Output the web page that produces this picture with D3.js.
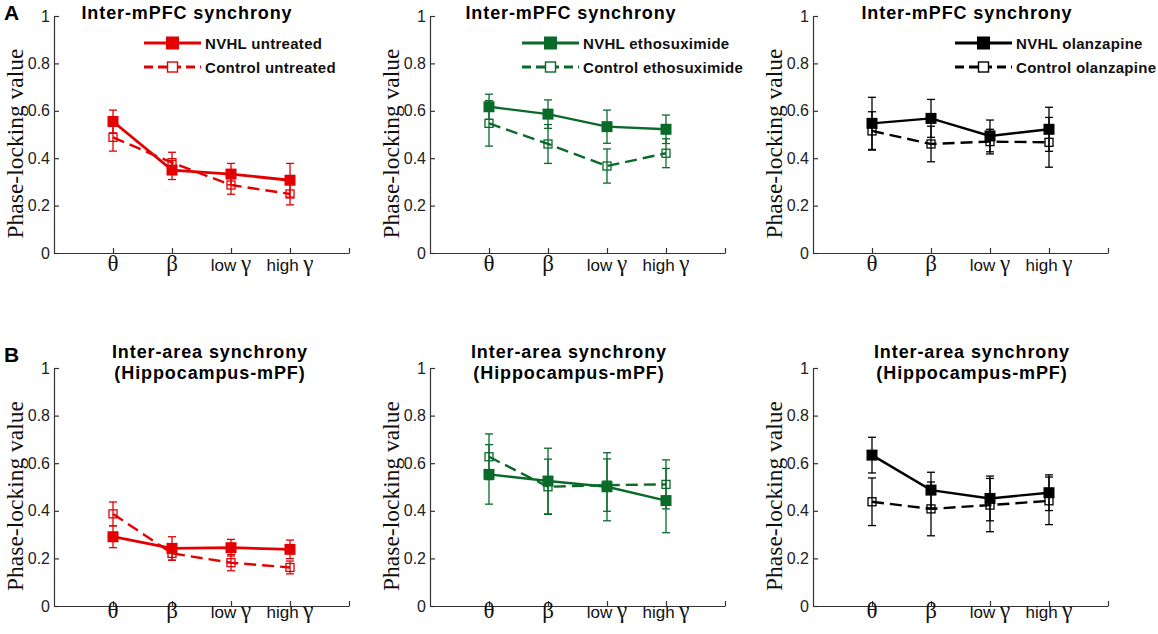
<!DOCTYPE html>
<html>
<head>
<meta charset="utf-8">
<script src="https://cdn.jsdelivr.net/npm/d3@7"></script>
<style>
  body { margin: 0; background: #fff; }
  text { font-family: "Liberation Sans", Arial, sans-serif; }
</style>
</head>
<body>
<svg id="chart" width="1158" height="634"></svg>
<script>
"use strict";
const bands = ['θ', 'β', 'low γ', 'high γ'];
const yTickValues = [0, 0.2, 0.4, 0.6, 0.8, 1];

const titleA = ['Inter-mPFC synchrony'];
const titleB = ['Inter-area synchrony', '(Hippocampus-mPF)'];
const legendNvhl = ['NVHL untreated', 'NVHL ethosuximide', 'NVHL olanzapine'];
const legendCtrl = ['Control untreated', 'Control ethosuximide', 'Control olanzapine'];

// A: inter-mPFC synchrony
const mpfcUntreatedNvhl = [0.555, 0.350, 0.333, 0.307];
const mpfcUntreatedNvhlErr = [0.048, 0.040, 0.045, 0.071];
const mpfcUntreatedCtrl = [0.488, 0.381, 0.287, 0.249];
const mpfcUntreatedCtrlErr = [0.058, 0.044, 0.039, 0.046];
const mpfcEthoNvhl = [0.617, 0.586, 0.533, 0.522];
const mpfcEthoNvhlErr = [0.053, 0.060, 0.070, 0.060];
const mpfcEthoCtrl = [0.547, 0.460, 0.367, 0.421];
const mpfcEthoCtrlErr = [0.096, 0.082, 0.072, 0.061];
const mpfcOlanNvhl = [0.547, 0.568, 0.494, 0.522];
const mpfcOlanNvhlErr = [0.110, 0.080, 0.067, 0.093];
const mpfcOlanCtrl = [0.515, 0.460, 0.470, 0.467];
const mpfcOlanCtrlErr = [0.081, 0.075, 0.052, 0.105];

// B: hippocampus-mPF synchrony
const hipUntreatedNvhl = [0.291, 0.242, 0.245, 0.238];
const hipUntreatedNvhlErr = [0.046, 0.049, 0.035, 0.039];
const hipUntreatedCtrl = [0.387, 0.221, 0.182, 0.162];
const hipUntreatedCtrlErr = [0.050, 0.029, 0.034, 0.027];
const hipEthoNvhl = [0.553, 0.525, 0.501, 0.443];
const hipEthoNvhlErr = [0.125, 0.138, 0.143, 0.135];
const hipEthoCtrl = [0.627, 0.501, 0.508, 0.511];
const hipEthoCtrlErr = [0.096, 0.116, 0.110, 0.103];
const hipOlanNvhl = [0.634, 0.487, 0.452, 0.476];
const hipOlanNvhlErr = [0.075, 0.075, 0.094, 0.075];
const hipOlanCtrl = [0.438, 0.408, 0.424, 0.442];
const hipOlanCtrlErr = [0.100, 0.113, 0.112, 0.100];

const colors = ['#e30000', '#0a6a2a', '#000000'];

// layout
const colX = [54, 430, 813];
const plotW = 295;
const rows = [
  {top: 16, bottom: 253, labelY: 271, title: titleA, titleY: 19, letter: 'A', letterY: 20},
  {top: 368, bottom: 606, labelY: 618, title: titleB, titleY: 358, letter: 'B', letterY: 362}
];
const titleCx = [[187, 571, 967], [210, 569, 972]];
const legendX = [144, 522, 955];

const panels = [
  {row: 0, col: 0, nvhl: mpfcUntreatedNvhl, nvhlErr: mpfcUntreatedNvhlErr, ctrl: mpfcUntreatedCtrl, ctrlErr: mpfcUntreatedCtrlErr},
  {row: 0, col: 1, nvhl: mpfcEthoNvhl, nvhlErr: mpfcEthoNvhlErr, ctrl: mpfcEthoCtrl, ctrlErr: mpfcEthoCtrlErr},
  {row: 0, col: 2, nvhl: mpfcOlanNvhl, nvhlErr: mpfcOlanNvhlErr, ctrl: mpfcOlanCtrl, ctrlErr: mpfcOlanCtrlErr},
  {row: 1, col: 0, nvhl: hipUntreatedNvhl, nvhlErr: hipUntreatedNvhlErr, ctrl: hipUntreatedCtrl, ctrlErr: hipUntreatedCtrlErr},
  {row: 1, col: 1, nvhl: hipEthoNvhl, nvhlErr: hipEthoNvhlErr, ctrl: hipEthoCtrl, ctrlErr: hipEthoCtrlErr},
  {row: 1, col: 2, nvhl: hipOlanNvhl, nvhlErr: hipOlanNvhlErr, ctrl: hipOlanCtrl, ctrlErr: hipOlanCtrlErr}
];

const svg = d3.select('#chart');
svg.append('rect').attr('width', 1158).attr('height', 634).attr('fill', '#fff');

// panel letters
rows.forEach(r => {
  svg.append('text')
    .attr('x', 4).attr('y', r.letterY)
    .style('font-size', '21px').style('font-weight', 'bold')
    .text(r.letter);
});

panels.forEach(p => {
  const r = rows[p.row];
  const x0 = colX[p.col];
  const color = colors[p.col];
  const solidW = p.col === 0 ? 2.8 : 2.4;

  const x = d3.scaleLinear().domain([0, 5]).range([x0, x0 + plotW]);
  const y = d3.scaleLinear().domain([0, 1]).range([r.bottom, r.top]);
  const g = svg.append('g');

  // axes, ticks pointing inward like matlab
  const xAxis = g.append('g')
    .attr('transform', `translate(0,${r.bottom})`)
    .call(d3.axisBottom(x).tickValues([1, 2, 3, 4, 5]).tickSizeInner(-5).tickSizeOuter(0).tickFormat(''));
  const yAxis = g.append('g')
    .attr('transform', `translate(${x0},0)`)
    .call(d3.axisLeft(y).tickValues(yTickValues).tickSizeInner(-5).tickSizeOuter(0).tickPadding(4).tickFormat(d => d));
  [xAxis, yAxis].forEach(a => {
    a.selectAll('path, line').attr('stroke', '#333').attr('stroke-width', 1.2);
  });
  yAxis.selectAll('text')
    .style('font-family', '"Liberation Sans", Arial, sans-serif')
    .style('font-size', '16px').attr('fill', '#222');

  // band labels: greek letters in serif
  bands.forEach((b, i) => {
    const t = g.append('text')
      .attr('x', x(i + 1)).attr('y', r.labelY)
      .attr('text-anchor', 'middle').attr('fill', '#111');
    const parts = b.split(' ');
    if (parts.length > 1) {
      t.append('tspan').style('font-size', '17px').text(parts[0] + ' ');
    }
    t.append('tspan')
      .style('font-family', '"Liberation Serif", "Times New Roman", serif')
      .style('font-size', '23px')
      .text(parts[parts.length - 1]);
  });

  // y label
  g.append('text')
    .attr('transform', `translate(${x0 - 31},${(r.top + r.bottom) / 2 + 9}) rotate(-90)`)
    .attr('text-anchor', 'middle')
    .style('font-family', '"Liberation Serif", "Times New Roman", serif')
    .style('font-size', '23.5px').attr('fill', '#111')
    .text('Phase-locking value');

  // title
  r.title.forEach((line, k) => {
    g.append('text')
      .attr('x', titleCx[p.row][p.col]).attr('y', r.titleY + k * 21)
      .attr('text-anchor', 'middle')
      .style('font-size', '18px').style('font-weight', 'bold').style('letter-spacing', '0.9px')
      .text(line);
  });

  const line = d3.line().x((d, i) => x(i + 1)).y(d => y(d));

  // control (dashed) and nvhl (solid) lines
  g.append('path').datum(p.ctrl).attr('d', line)
    .attr('fill', 'none').attr('stroke', color).attr('stroke-width', 2.4)
    .attr('stroke-dasharray', '12,6');
  g.append('path').datum(p.nvhl).attr('d', line)
    .attr('fill', 'none').attr('stroke', color).attr('stroke-width', solidW);

  // error bars
  [[p.ctrl, p.ctrlErr], [p.nvhl, p.nvhlErr]].forEach(([vals, errs]) => {
    const eb = g.append('g').attr('stroke', color).attr('stroke-width', 1.3);
    vals.forEach((v, i) => {
      const cx = x(i + 1);
      eb.append('line').attr('x1', cx).attr('x2', cx).attr('y1', y(v - errs[i])).attr('y2', y(v + errs[i]));
      [v - errs[i], v + errs[i]].forEach(e => {
        eb.append('line').attr('x1', cx - 4).attr('x2', cx + 4).attr('y1', y(e)).attr('y2', y(e));
      });
    });
  });

  // markers
  g.selectAll('.ctrl-pt').data(p.ctrl).enter().append('rect')
    .attr('x', (d, i) => x(i + 1) - 4).attr('y', d => y(d) - 4)
    .attr('width', 8).attr('height', 8)
    .attr('fill', 'none').attr('stroke', color).attr('stroke-width', 1.3);
  g.selectAll('.nvhl-pt').data(p.nvhl).enter().append('rect')
    .attr('x', (d, i) => x(i + 1) - 5.5).attr('y', d => y(d) - 5.5)
    .attr('width', 11).attr('height', 11)
    .attr('fill', color);

  // legend, only on top row
  if (p.row === 0) {
    const lx = legendX[p.col];
    const rowsY = [43, 67];
    const names = [legendNvhl[p.col], legendCtrl[p.col]];
    rowsY.forEach((ly, k) => {
      g.append('line').attr('x1', lx).attr('x2', lx + 57).attr('y1', ly).attr('y2', ly)
        .attr('stroke', color).attr('stroke-width', k === 0 ? 3 : 2.8)
        .attr('stroke-dasharray', k === 0 ? null : '9,5');
      if (k === 0) {
        g.append('rect').attr('x', lx + 22).attr('y', ly - 6.5).attr('width', 13).attr('height', 13).attr('fill', color);
      } else {
        g.append('rect').attr('x', lx + 23.5).attr('y', ly - 5).attr('width', 10).attr('height', 10)
          .attr('fill', '#fff').attr('stroke', color).attr('stroke-width', 1.4);
      }
      g.append('text')
        .attr('x', lx + 61).attr('y', ly + 5.5)
        .style('font-size', '15px').style('font-weight', 'bold').style('letter-spacing', '0.3px')
        .attr('fill', '#111')
        .text(names[k]);
    });
  }
});
</script>
</body>
</html>
